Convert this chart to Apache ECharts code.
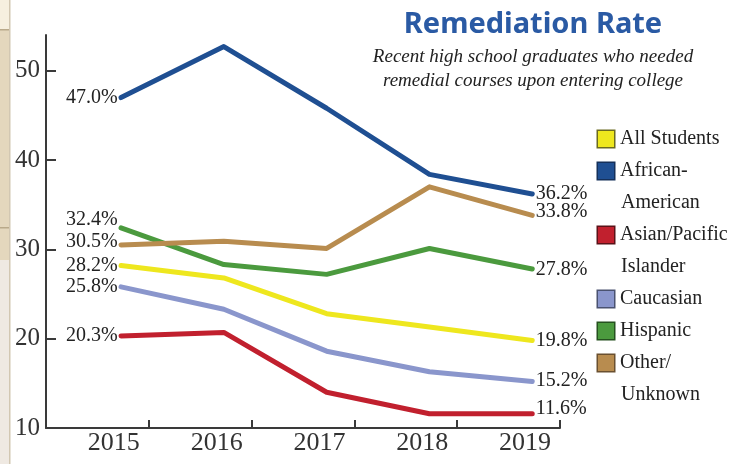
<!DOCTYPE html>
<html>
<head>
<meta charset="utf-8">
<script src="https://cdn.jsdelivr.net/npm/echarts@6/dist/echarts.min.js"></script>
<style>html,body{margin:0;padding:0;background:#fff}#c{width:736px;height:464px}</style>
</head>
<body>
<div id="c"></div>
<script>
// ---- data ----
var years = [2015, 2016, 2017, 2018, 2019];
var seriesNames = ['All Students', 'African-American', 'Asian/Pacific Islander', 'Caucasian', 'Hispanic', 'Other/Unknown'];
var legendLines = [['All Students'], ['African-', 'American'], ['Asian/Pacific', 'Islander'], ['Caucasian'], ['Hispanic'], ['Other/', 'Unknown']];
var allStudents = [28.2, 26.8, 22.8, 21.3, 19.8];
var africanAmerican = [47.0, 52.7, 45.8, 38.4, 36.2];
var asianPacific = [20.3, 20.7, 14.0, 11.6, 11.6];
var caucasian = [25.8, 23.3, 18.6, 16.3, 15.2];
var hispanic = [32.4, 28.3, 27.2, 30.1, 27.8];
var otherUnknown = [30.5, 30.9, 30.1, 37.0, 33.8];
var yTickLabels = [10, 20, 30, 40, 50];

// ---- styles ----
var colors = ['#eee71e', '#1f4f92', '#c1202e', '#8a96cc', '#4b9a3e', '#b88c4f'];
var borders = ['#6b6a20', '#15305a', '#5a1218', '#4a5270', '#25511f', '#6a5030'];
var leftOffsets = [[0, 0], [0, 0], [0, 0], [0, 0], [0, -8], [0, -3]];
var rightOffsets = [[0, 0], [0, 0], [0, -5], [0, -1], [0, 1], [0, -4]];
var tickShift = 0.27;
var labelShift = -0.07;
var serif = '"Liberation Serif", "DejaVu Serif", serif';

var allValues = [allStudents, africanAmerican, asianPacific, caucasian, hispanic, otherUnknown];

var series = allValues.map(function (vals, si) {
  return {
    name: seriesNames[si],
    type: 'line',
    symbol: 'circle',
    symbolSize: 1,
    showSymbol: true,
    lineStyle: { width: 5, color: colors[si], join: 'round', cap: 'round' },
    itemStyle: { color: colors[si] },
    data: vals.map(function (v, i) {
      var d = { value: [years[i], v] };
      if (i === 0 || i === vals.length - 1) {
        var left = i === 0;
        d.label = {
          show: true,
          position: left ? 'left' : 'right',
          distance: 3,
          offset: left ? leftOffsets[si] : rightOffsets[si],
          formatter: v.toFixed(1) + '%',
          fontFamily: serif,
          fontSize: 20,
          color: '#222'
        };
      }
      return d;
    }),
    label: { show: false },
    emphasis: { disabled: true },
    z: 2
  };
});

var rich = {
  t: { fontFamily: serif, fontSize: 20, color: '#222', lineHeight: 32, padding: [0, 0, 0, 6] },
  t2: { fontFamily: serif, fontSize: 20, color: '#222', lineHeight: 32, padding: [0, 0, 0, 23] }
};
colors.forEach(function (c, i) {
  rich['i' + i] = { width: 16, height: 16, backgroundColor: c, borderColor: borders[i], borderWidth: 1.5 };
});

var option = {
  animation: false,
  backgroundColor: '#ffffff',
  title: {
    text: 'Remediation Rate',
    subtext: 'Recent high school graduates who needed\nremedial courses upon entering college',
    left: 528,
    top: 4,
    textAlign: 'center',
    itemGap: 4,
    textStyle: { fontFamily: '"Noto Sans", "DejaVu Sans", sans-serif', fontWeight: 'bold', fontSize: 29, color: '#2a5aa4', lineHeight: 32 },
    subtextStyle: { fontFamily: serif, fontStyle: 'italic', fontSize: 19, color: '#222', lineHeight: 24 }
  },
  legend: {
    orient: 'vertical',
    left: 588,
    top: 124,
    icon: 'none',
    itemWidth: 0,
    itemHeight: 16,
    itemGap: 12,
    selectedMode: false,
    data: seriesNames,
    formatter: function (name) {
      var idx = seriesNames.indexOf(name);
      var lines = legendLines[idx];
      var s = '{i' + idx + '|}{t|' + lines[0] + '}';
      for (var k = 1; k < lines.length; k++) s += '\n{t2|' + lines[k] + '}';
      return s;
    },
    textStyle: { rich: rich, fontFamily: serif, fontSize: 20, color: '#222' }
  },
  grid: { left: 46, right: 176, top: 35, bottom: 36, containLabel: false },
  xAxis: {
    type: 'value',
    min: years[0] - 1 + tickShift,
    max: years[years.length - 1] + tickShift,
    interval: 1,
    axisLine: { show: true, onZero: false, lineStyle: { color: '#3a3a3a', width: 2 } },
    axisTick: { show: true, inside: true, length: 8, lineStyle: { color: '#3a3a3a', width: 2 },
      customValues: years.map(function (y) { return y + tickShift; }) },
    axisLabel: { show: true, customValues: years.map(function (y) { return y + labelShift; }), margin: 2, fontFamily: serif, fontSize: 26, color: '#333',
      formatter: function (v) { return String(Math.round(v)); } },
    splitLine: { show: false }
  },
  yAxis: {
    type: 'value',
    min: 10,
    max: 54,
    interval: 10,
    axisLine: { show: true, onZero: false, lineStyle: { color: '#3a3a3a', width: 2 } },
    axisTick: { show: true, inside: true, length: 10, lineStyle: { color: '#3a3a3a', width: 2 },
      customValues: yTickLabels.slice(1) },
    axisLabel: { show: true, customValues: yTickLabels, margin: 6, fontFamily: serif, fontSize: 25, color: '#333' },
    splitLine: { show: false }
  },
  graphic: [
    { type: 'rect', left: 0, top: 0, shape: { width: 9, height: 30 }, style: { fill: '#f6efdf' }, silent: true },
    { type: 'rect', left: 0, top: 30, shape: { width: 9, height: 230 }, style: { fill: '#e4d7bd' }, silent: true },
    { type: 'rect', left: 0, top: 260, shape: { width: 9, height: 204 }, style: { fill: '#efe9e2' }, silent: true },
    { type: 'rect', left: 0, top: 29, shape: { width: 9, height: 1.5 }, style: { fill: '#b9a98a' }, silent: true },
    { type: 'rect', left: 0, top: 227, shape: { width: 9, height: 1.5 }, style: { fill: '#b9a98a' }, silent: true },
    { type: 'rect', left: 9, top: 0, shape: { width: 1.5, height: 464 }, style: { fill: '#d2c7b2' }, silent: true }
  ],
  series: series
};

var chart = echarts.init(document.getElementById('c'), null, { renderer: 'canvas' });
chart.setOption(option);
</script>
</body>
</html>
